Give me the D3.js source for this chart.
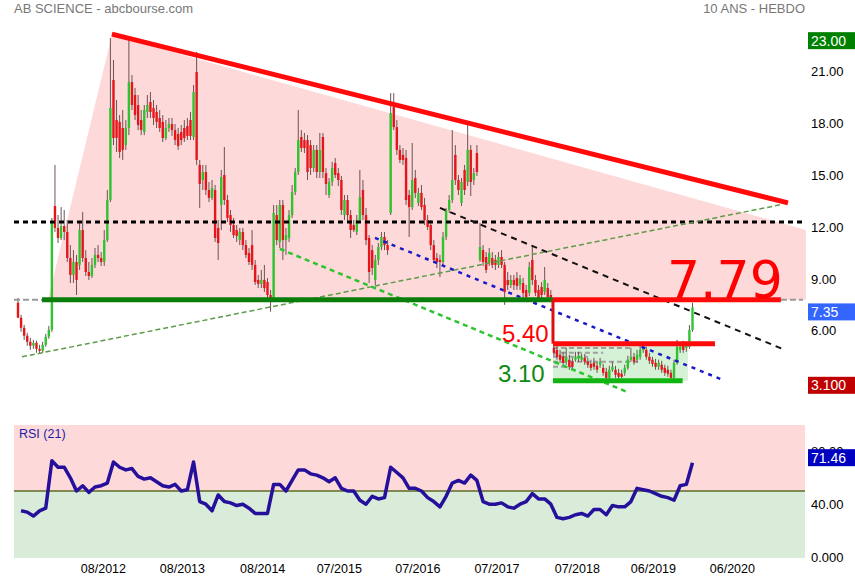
<!DOCTYPE html>
<html><head><meta charset="utf-8">
<script src="https://cdn.jsdelivr.net/npm/d3@7"></script>
<style>body{margin:0;background:#fff}svg{display:block;font-family:"Liberation Sans",Arial,sans-serif}</style>
</head><body><svg id="c" width="855" height="580"></svg>
<script>
// ---------- DATA ----------
const title = "AB SCIENCE - abcbourse.com";
const subtitle = "10 ANS - HEBDO";
const startDate = "2011-07-18";
const stepDays = 14;
const open = [
7.62,6.75,6.17,5.71,5.36,5.13,5.30,4.95,4.84,5.18,
5.65,6.05,13.22,11.95,11.37,12.06,11.72,10.21,9.23,9.98,
9.81,11.83,10.21,9.40,9.17,9.81,10.39,10.21,9.98,11.25,
13.57,20.52,18.20,18.09,17.74,16.75,17.74,20.40,19.65,19.07,
18.20,17.51,18.67,19.24,18.90,18.67,18.32,18.09,17.16,17.74,
17.97,17.62,17.39,17.51,17.74,17.85,18.20,17.22,20.98,15.60,
14.73,15.19,14.15,13.69,14.15,11.95,13.28,15.02,13.57,12.70,
12.12,11.83,11.25,11.72,10.96,10.50,10.96,9.81,8.94,8.71,
8.94,8.82,8.07,7.90,12.70,11.14,13.28,11.25,11.37,12.70,
14.03,15.19,17.22,17.04,17.04,16.75,15.42,16.47,15.19,17.22,
15.13,13.86,14.61,15.71,15.13,14.73,12.70,13.57,12.70,12.12,
11.72,12.41,14.15,12.70,11.37,10.67,8.94,10.10,10.85,11.43,
10.96,12.82,18.95,17.79,16.47,16.18,16.00,13.86,13.16,14.84,
13.40,13.98,13.28,12.41,12.12,10.96,10.21,10.10,9.98,11.43,
12.99,13.57,16.18,14.73,13.40,15.31,14.61,16.47,14.73,16.29,
10.10,10.67,10.27,9.92,10.21,10.10,9.81,10.27,9.81,8.94,
8.65,8.94,9.05,8.65,8.76,8.36,8.19,10.10,8.94,8.36,
8.53,8.24,8.47,8.07,5.01,4.89,4.61,4.49,4.20,4.32,
4.20,4.32,4.37,4.32,4.43,4.20,4.08,4.14,3.97,4.03,
3.85,3.62,3.27,3.74,3.74,3.56,3.51,3.56,3.85,4.32,
4.49,4.32,4.49,4.89,4.89,4.49,4.32,4.14,3.91,4.03,
3.85,3.74,3.56,3.27,4.14,4.89,5.18,5.01,5.07,6.05];
const high = [
7.90,6.92,6.34,5.88,5.59,5.47,5.42,5.18,5.36,5.82,
6.28,12.53,15.60,12.70,13.16,12.99,12.41,10.96,10.67,10.39,
12.30,12.88,10.67,9.98,10.21,10.79,10.96,10.56,11.83,14.15,
22.95,21.68,19.36,18.49,18.78,18.20,22.83,20.81,20.06,19.65,
18.78,19.07,19.65,19.82,19.36,19.07,18.78,18.49,18.20,18.32,
18.32,17.97,17.74,17.91,18.20,18.32,18.67,20.23,22.14,15.89,
15.60,15.60,14.61,14.73,14.44,12.41,15.31,16.64,13.86,12.99,
12.53,12.12,11.95,11.95,11.25,10.79,11.83,10.10,9.23,9.52,
9.81,9.05,8.36,13.28,13.28,13.57,13.57,11.95,12.99,14.44,
15.42,18.78,17.62,17.45,17.33,17.04,16.75,16.75,17.45,17.45,
15.42,14.84,15.78,16.00,15.42,14.96,13.86,13.86,12.99,12.41,
12.70,15.31,14.73,13.11,11.54,10.96,10.39,11.08,11.72,11.72,
11.25,19.76,19.76,18.20,16.75,16.58,16.47,14.15,16.87,15.31,
14.27,14.44,13.69,12.70,12.41,11.25,10.50,10.39,11.72,13.11,
13.86,17.62,16.75,15.02,14.84,15.60,17.91,16.75,15.42,16.75,
12.24,10.96,10.56,10.79,10.56,10.39,10.56,10.67,9.98,9.40,
9.23,9.23,9.40,9.23,9.05,8.65,9.98,10.96,9.23,8.65,
8.82,9.69,8.76,8.36,5.24,5.18,4.89,4.78,5.01,4.61,
4.43,4.78,4.78,4.66,4.66,4.43,4.32,4.43,4.20,4.43,
4.08,3.85,3.97,4.20,3.97,3.79,3.74,4.03,4.55,5.01,
4.72,4.89,5.13,5.18,5.07,4.72,4.49,4.37,4.32,4.26,
4.03,3.97,3.74,4.32,5.47,5.30,5.42,5.36,6.33,7.62];
const low = [
6.75,5.94,5.47,5.13,4.89,4.95,4.72,4.66,4.72,5.07,
5.53,5.94,11.72,11.08,11.25,11.25,9.98,8.76,8.76,8.07,
9.52,9.98,9.17,8.94,9.05,9.63,9.98,9.75,9.75,11.14,
13.45,16.75,16.35,16.00,15.89,16.47,17.33,18.78,18.20,17.62,
17.33,17.33,18.32,18.32,17.91,17.74,17.51,16.93,17.04,17.51,
17.28,16.75,16.47,16.75,16.93,17.04,17.04,17.04,15.60,13.11,
14.15,13.86,13.45,13.57,11.14,10.10,11.83,13.28,12.30,11.72,
11.37,11.14,10.96,10.67,10.21,9.81,9.52,8.65,8.47,8.47,
8.24,7.79,7.10,7.79,10.96,10.79,10.10,10.39,11.14,12.53,
13.86,15.02,16.35,16.29,14.73,15.02,15.19,14.84,14.84,14.84,
13.86,13.69,14.38,14.84,14.38,12.70,12.41,12.30,11.37,11.72,
11.54,12.30,12.41,10.96,8.76,9.23,8.65,9.81,10.67,10.67,
10.39,12.70,17.62,16.18,15.71,15.60,13.28,11.43,12.99,13.69,
13.22,12.99,12.12,11.83,10.67,9.92,9.63,9.11,9.81,11.25,
12.82,13.40,14.44,13.86,13.22,13.86,14.38,13.80,14.44,14.96,
9.98,9.75,9.34,9.75,9.63,9.52,9.63,9.63,7.50,8.36,
8.47,8.36,8.36,8.36,7.90,7.79,8.01,8.65,8.01,7.79,
7.90,8.07,7.85,7.79,4.55,4.32,4.14,3.97,4.03,3.74,
3.74,4.20,4.20,4.20,4.03,3.85,3.68,3.74,3.56,3.85,
3.39,3.10,3.10,3.62,3.27,3.16,3.22,3.39,3.74,4.20,
4.03,4.14,4.32,4.72,4.32,4.08,3.91,3.74,3.74,3.56,
3.39,3.33,3.10,3.10,4.03,4.72,4.72,4.78,4.95,5.94];
const close = [
6.75,6.17,5.71,5.36,5.13,5.30,4.95,4.84,5.18,5.65,
6.05,12.30,11.95,11.37,12.06,11.72,10.21,9.23,9.98,8.94,
11.83,10.21,9.40,9.17,9.81,10.39,10.21,9.98,11.25,13.57,
18.90,17.16,17.16,16.35,16.47,17.74,20.40,19.07,18.49,17.91,
17.62,18.78,19.07,18.67,18.32,18.09,17.74,17.16,17.74,17.97,
17.62,17.04,16.70,17.04,17.16,17.28,17.28,19.82,15.89,14.50,
15.19,14.15,13.69,14.27,11.37,11.08,14.90,13.57,12.53,12.12,
11.54,11.49,11.72,10.96,10.39,9.98,9.81,8.82,8.71,8.94,
8.47,8.07,7.90,12.82,11.25,13.28,11.25,11.54,12.70,14.03,
15.19,17.04,16.58,16.58,15.19,15.42,16.47,15.19,16.47,15.19,
14.50,14.61,15.42,15.02,14.73,12.99,13.57,12.70,11.83,11.83,
12.41,13.74,12.70,11.25,9.40,9.63,10.10,10.85,11.43,10.96,
10.67,18.61,17.79,16.47,15.89,15.89,13.57,13.16,14.73,13.98,
13.98,13.16,12.41,12.01,10.96,10.10,9.98,9.98,11.43,12.99,
13.57,14.73,14.73,14.15,14.61,14.15,16.47,14.61,15.13,15.19,
10.85,9.98,9.52,10.50,9.81,9.81,10.27,9.81,8.24,8.65,
8.94,8.65,8.59,9.00,8.19,7.95,9.69,8.94,8.19,7.90,
8.07,8.94,7.95,7.90,4.72,4.49,4.32,4.14,4.49,3.91,
3.91,4.49,4.55,4.49,4.20,4.03,3.85,3.91,3.74,4.20,
3.56,3.27,3.74,3.91,3.45,3.33,3.33,3.85,4.32,4.49,
4.20,4.61,4.89,5.01,4.49,4.26,4.08,3.91,4.14,3.74,
3.56,3.51,3.27,4.14,5.07,5.07,4.89,5.18,6.05,7.35];
// RSI(21), one value every 2 bars (bars 1,3,5,...)
const rsi = [
35,34,31,35,37,73,68,68,60,50,
54,49,53,54,56,72,68,66,67,61,
59,60,57,54,53,55,50,51,72,42,
40,35,47,42,41,39,40,37,33,33,
33,55,55,50,58,66,66,63,62,60,
57,60,52,50,50,43,40,46,44,45,
68,64,60,52,52,50,45,42,38,46,
56,58,56,62,58,42,40,40,41,38,
37,40,42,48,44,44,40,30,29,30,
32,33,31,36,36,32,39,38,38,42,
52,51,50,48,46,45,43,54,55,71.46];
const priceTicks = [6, 9, 12, 15, 18, 21];
const rsiTicks = [0, 40, 80];
const dateTicks = ["2012-08-07","2013-08-01","2014-08-01","2015-07-15","2016-07-06","2017-07-01","2018-07-01","2019-06-12","2020-06-05"];
const lastPrice = 7.35, maxPrice = 23.00, minPrice = 3.10, lastRsi = 71.46;
// annotation levels / trendlines in [bar index, price]
const breakLevel = 7.79, midLevel = 5.25, lowLevel = 3.10, dottedLevel = 12.30;
const levelLabels = ["7.79", "5.40", "3.10"];
const triangle = [[9.7, 7.79], [30.5, 23.12], [255.8, 11.84], [255.8, 7.79]];
const redTrend = [[30.5, 23.18], [250, 13.40]];
const blackTrend = [[137, 13.11], [249, 4.89]];
const blueTrend = [[115.9, 11.38], [229.5, 3.10]];
const greenTrend = [[85, 10.74], [197.7, 2.46]];
const oliveTrend = [[1.3, 4.49], [247.4, 13.29]];
const boxLevels = [5.00, 4.72, 4.49, 4.20, 3.91];
const boxLevelEnds = [199, 190, 185, 202, 180];

// ---------- SCALES ----------
const svg = d3.select("#c");
const L = 14, R = 805;
const parse = d3.timeParse("%Y-%m-%d");
const t0 = parse(startDate);
const n = close.length;
const dateAt = i => new Date(t0.getTime() + i * stepDays * 864e5);
const x = d3.scaleTime().domain([dateAt(0), dateAt(n - 1)]).range([18, 692.5]);
const xi = i => x(dateAt(i));
const y = d3.scaleLinear().domain([3.1, 21]).range([380.8, 71.7]);
const ry = d3.scaleLinear().domain([0, 100]).range([557, 425]);

// ---------- TITLES ----------
svg.append("text").attr("x", 14).attr("y", 13).attr("font-size", 13).attr("fill", "#777").text(title);
svg.append("text").attr("x", 805).attr("y", 13).attr("font-size", 13).attr("fill", "#777").attr("text-anchor", "end").text(subtitle);

// ---------- MAIN PANEL ----------
const line = d3.line().x(d => xi(d[0])).y(d => y(d[1]));
svg.append("path").attr("d", line(triangle) + "Z").attr("fill", "#fdd9d9");

// light green box
svg.append("rect").attr("x", xi(173.7)).attr("y", y(midLevel))
  .attr("width", xi(217.5) - xi(173.7)).attr("height", y(lowLevel) - y(midLevel)).attr("fill", "#d6f2d6");
boxLevels.forEach((p, k) => {
  svg.append("line").attr("x1", xi(173.7)).attr("x2", xi(boxLevelEnds[k])).attr("y1", y(p)).attr("y2", y(p))
    .attr("stroke", "#a0a0a0").attr("stroke-width", 2).attr("stroke-dasharray", "5,3");
});

// candles
const idx = d3.range(n);
const cg = svg.append("g");
cg.selectAll("line").data(idx).join("line")
  .attr("x1", i => xi(i)).attr("x2", i => xi(i))
  .attr("y1", i => y(high[i])).attr("y2", i => y(low[i]))
  .attr("stroke", "#6e5252").attr("stroke-width", 1);
cg.selectAll("rect").data(idx).join("rect")
  .attr("x", i => xi(i) - 1.2).attr("width", 2.4)
  .attr("y", i => y(Math.max(open[i], close[i])))
  .attr("height", i => Math.max(1, Math.abs(y(open[i]) - y(close[i]))))
  .attr("fill", i => close[i] >= open[i] ? "#2fc42f" : "#e5161b");

// horizontal dotted black
svg.append("line").attr("x1", L).attr("x2", R - 2).attr("y1", y(dottedLevel)).attr("y2", y(dottedLevel))
  .attr("stroke", "#000").attr("stroke-width", 3).attr("stroke-dasharray", "5,4");
// gray dashed extensions of break level
[[L, xi(7.8)], [xi(247.7), R - 2]].forEach(s => {
  svg.append("line").attr("x1", s[0]).attr("x2", s[1]).attr("y1", y(breakLevel)).attr("y2", y(breakLevel))
    .attr("stroke", "#9a9a9a").attr("stroke-width", 2).attr("stroke-dasharray", "6,3");
});
// trendlines
function seg(pts, color, w, dash) {
  const p = svg.append("path").attr("d", line(pts)).attr("stroke", color).attr("stroke-width", w).attr("fill", "none");
  if (dash) p.attr("stroke-dasharray", dash);
}
seg(oliveTrend, "#5e9c4a", 1.5, "5,3");
seg(greenTrend, "#2ec42e", 2.5, "5,4");
seg(blueTrend, "#1a1ac8", 2.5, "4,5");
seg(blackTrend, "#111", 2, "6,5");
seg(redTrend, "#ff0a0a", 5, null);
// green support line
seg([[7.8, breakLevel], [173.7, breakLevel]], "#0a7d0a", 5, null);
// red levels
seg([[173.7, breakLevel], [247.7, breakLevel]], "#ff0a0a", 5, null);
seg([[173.7, breakLevel], [173.7, midLevel]], "#e01010", 3, null);
seg([[173.7, midLevel], [226.3, midLevel]], "#ff0a0a", 5, null);
seg([[173.7, lowLevel], [215.8, lowLevel]], "#11b511", 5, null);

// level labels
svg.append("text").attr("x", 667).attr("y", 298).attr("font-size", 52).attr("font-family", "DejaVu Sans, Verdana, sans-serif").attr("fill", "#ff0000").text(levelLabels[0]);
svg.append("text").attr("x", 502).attr("y", 342).attr("font-size", 24).attr("fill", "#ff0000").text(levelLabels[1]);
svg.append("text").attr("x", 498).attr("y", 382).attr("font-size", 24).attr("fill", "#0f8a0f").text(levelLabels[2]);

// ---------- RSI PANEL ----------
svg.append("rect").attr("x", L).attr("y", ry(100)).attr("width", R - L).attr("height", ry(50) - ry(100)).attr("fill", "#fdd9d9");
svg.append("rect").attr("x", L).attr("y", ry(50)).attr("width", R - L).attr("height", ry(0) - ry(50) + 1).attr("fill", "#d9ecd9");
svg.append("line").attr("x1", L).attr("x2", R).attr("y1", ry(50)).attr("y2", ry(50)).attr("stroke", "#5b6b25").attr("stroke-width", 1.3);
svg.append("path").datum(rsi)
  .attr("d", d3.line().x((d, k) => xi(2 * k + 1)).y(d => ry(d)))
  .attr("fill", "none").attr("stroke", "#25109c").attr("stroke-width", 3.5).attr("stroke-linejoin", "round");
svg.append("text").attr("x", 19).attr("y", 438).attr("font-size", 12.5).attr("fill", "#1c1ca8").text("RSI (21)");

// ---------- AXES ----------
const ya = svg.append("g").attr("transform", "translate(811,0)")
  .call(d3.axisRight(y).tickValues(priceTicks).tickSize(0).tickPadding(0).tickFormat(d3.format(".2f")));
const ra = svg.append("g").attr("transform", "translate(811,0)")
  .call(d3.axisRight(ry).tickValues(rsiTicks).tickSize(0).tickPadding(0).tickFormat(d => d === 0 ? "0.000" : d3.format(".2f")(d)));
const xa = svg.append("g").attr("transform", "translate(0,564)")
  .call(d3.axisBottom(x).tickValues(dateTicks.map(parse)).tickSize(0).tickPadding(0).tickFormat(d3.timeFormat("%m/%Y")));
[ya, ra, xa].forEach(a => {
  a.select(".domain").remove();
  a.selectAll("text").attr("font-size", 13).attr("fill", "#000").attr("font-family", "Liberation Sans, Arial, sans-serif");
});
xa.selectAll("text").attr("font-size", 12.5);

// ---------- VALUE BOXES ----------
function box(yc, txt, color) {
  svg.append("rect").attr("x", 808).attr("y", yc - 8.5).attr("width", 47).attr("height", 17).attr("fill", color);
  svg.append("text").attr("x", 811).attr("y", yc + 5).attr("font-size", 14).attr("fill", "#fff").text(txt);
}
box(y(maxPrice) + 3.5, d3.format(".2f")(maxPrice), "#008000");
box(y(lastPrice) + 4.5, d3.format(".2f")(lastPrice), "#3366ff");
box(y(minPrice) + 4.5, d3.format(".3f")(minPrice), "#c00000");
box(ry(lastRsi) - 5, d3.format(".2f")(lastRsi), "#0000c0");
</script></body></html>
